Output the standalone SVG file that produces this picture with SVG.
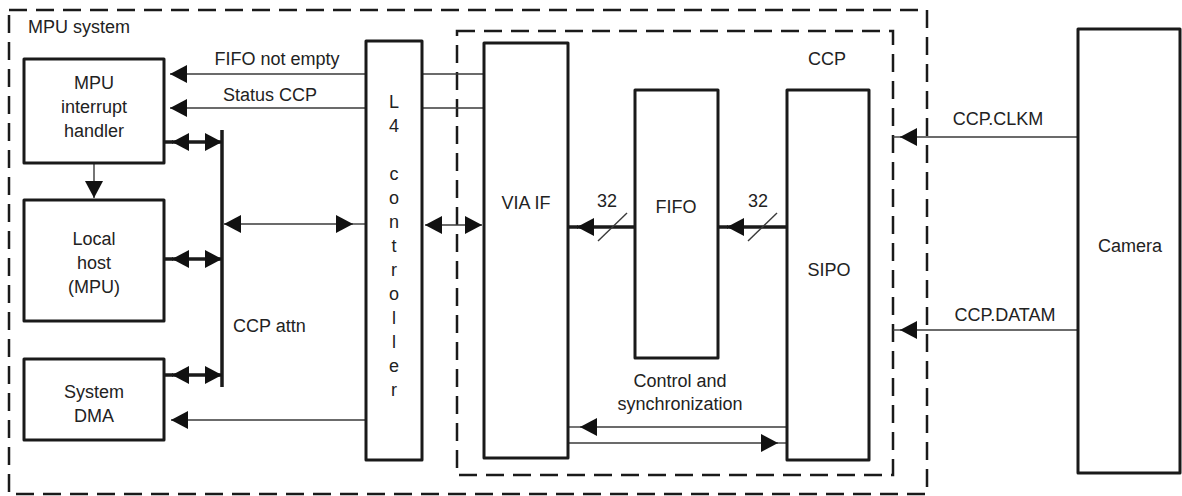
<svg xmlns="http://www.w3.org/2000/svg" width="1182" height="496" viewBox="0 0 1182 496">
<defs>
<style>
.box{fill:#fff;stroke:#1a1a1a;stroke-width:3;stroke-linejoin:round}
.dash{fill:none;stroke:#1a1a1a;stroke-width:2.5;stroke-dasharray:18 9}
.thin{fill:none;stroke:#3a3a3a;stroke-width:1.4}
.thick{fill:none;stroke:#1a1a1a;stroke-width:3.5}
.ah{marker-end:url(#arr)}
.ah2{marker-start:url(#arr);marker-end:url(#arr)}
text{font-family:"Liberation Sans",Arial,sans-serif;font-size:18px;fill:#222}
.c{text-anchor:middle}
</style>
<marker id="arr" viewBox="0 0 17 18" refX="17" refY="9" markerWidth="17" markerHeight="18" markerUnits="userSpaceOnUse" orient="auto-start-reverse">
<path d="M0,0 L17,9 L0,18 z" fill="#111"/>
</marker>
</defs>
<rect width="1182" height="496" fill="#fff"/>

<g id="mpu-system">
<rect class="dash" x="9" y="10" width="918" height="484"/>
<text x="28" y="33">MPU system</text>
</g>
<g id="ccp">
<rect class="dash" x="457" y="31" width="436" height="444"/>
<text class="c" x="827" y="65">CCP</text>
</g>

<g id="connectors">
<!-- FIFO not empty / Status CCP -->
<line class="thin ah" x1="366" y1="74" x2="170" y2="74"/>
<line class="thin" x1="422" y1="74" x2="484" y2="74"/>
<line class="thin ah" x1="366" y1="108" x2="170" y2="108"/>
<line class="thin" x1="422" y1="108" x2="484" y2="108"/>
<!-- DMA request -->
<line class="thin ah" x1="366" y1="420" x2="171" y2="420"/>
<!-- interrupt -> local host -->
<line class="thin ah" x1="94" y1="163" x2="94" y2="198"/>
<!-- CCP attn bus -->
<line class="thick" x1="222" y1="130" x2="222" y2="387"/>
<line class="thick ah2" x1="172" y1="142" x2="222" y2="142"/>
<line class="thick" x1="164" y1="142" x2="173" y2="142"/>
<line class="thick ah2" x1="172" y1="259" x2="222" y2="259"/>
<line class="thick" x1="164" y1="259" x2="173" y2="259"/>
<line class="thick ah2" x1="172" y1="375" x2="222" y2="375"/>
<line class="thick" x1="164" y1="375" x2="173" y2="375"/>
<!-- bus <-> L4 -->
<line class="thin ah2" x1="224" y1="224" x2="353" y2="224"/>
<line class="thin" x1="352" y1="224" x2="366" y2="224"/>
<!-- L4 <-> VIA IF -->
<line class="thin ah2" x1="425" y1="225" x2="482" y2="225"/>
<!-- 32-bit buses -->
<line class="thick ah" x1="635" y1="227" x2="577" y2="227"/>
<line class="thick" x1="568" y1="227" x2="578" y2="227"/>
<line class="thin" x1="598" y1="241" x2="627" y2="213"/>
<line class="thick ah" x1="787" y1="227" x2="727" y2="227"/>
<line class="thick" x1="718" y1="227" x2="728" y2="227"/>
<line class="thin" x1="748" y1="241" x2="777" y2="213"/>
<!-- Control and synchronization -->
<line class="thin ah" x1="787" y1="427" x2="580" y2="427"/>
<line class="thin" x1="568" y1="427" x2="581" y2="427"/>
<line class="thin ah" x1="568" y1="443" x2="778" y2="443"/>
<line class="thin" x1="777" y1="443" x2="787" y2="443"/>
<!-- Camera signals -->
<line class="thin ah" x1="1078" y1="137" x2="900" y2="137"/>
<line class="thin" x1="893" y1="137" x2="901" y2="137"/>
<line class="thin ah" x1="1078" y1="330" x2="900" y2="330"/>
<line class="thin" x1="893" y1="330" x2="901" y2="330"/>
<!-- labels -->
<text class="c" x="277" y="65">FIFO not empty</text>
<text class="c" x="270" y="101">Status CCP</text>
<text x="233" y="332">CCP attn</text>
<text class="c" x="607" y="207">32</text>
<text class="c" x="758" y="207">32</text>
<text class="c" x="680" y="387">Control and</text>
<text class="c" x="680" y="410">synchronization</text>
<text class="c" x="998" y="125">CCP.CLKM</text>
<text class="c" x="1005" y="321">CCP.DATAM</text>
</g>

<g id="mpu-interrupt-handler">
<rect class="box" x="24" y="59" width="140" height="104"/>
<text class="c" x="94" y="89">MPU</text>
<text class="c" x="94" y="113">interrupt</text>
<text class="c" x="94" y="137">handler</text>
</g>
<g id="local-host">
<rect class="box" x="24" y="200" width="140" height="121"/>
<text class="c" x="94" y="245">Local</text>
<text class="c" x="94" y="269">host</text>
<text class="c" x="94" y="293">(MPU)</text>
</g>
<g id="system-dma">
<rect class="box" x="24" y="359" width="140" height="81"/>
<text class="c" x="94" y="398">System</text>
<text class="c" x="94" y="422">DMA</text>
</g>
<g id="l4-controller">
<rect class="box" x="366" y="41" width="56" height="419"/>
<text class="c" x="394" y="108">L</text>
<text class="c" x="394" y="132">4</text>
<text class="c" x="394" y="180">c</text>
<text class="c" x="394" y="204">o</text>
<text class="c" x="394" y="228">n</text>
<text class="c" x="394" y="252">t</text>
<text class="c" x="394" y="276">r</text>
<text class="c" x="394" y="300">o</text>
<text class="c" x="394" y="324">l</text>
<text class="c" x="394" y="348">l</text>
<text class="c" x="394" y="372">e</text>
<text class="c" x="394" y="396">r</text>
</g>
<g id="via-if">
<rect class="box" x="484" y="43" width="84" height="415"/>
<text class="c" x="526" y="209">VIA IF</text>
</g>
<g id="fifo">
<rect class="box" x="635" y="90" width="83" height="268"/>
<text class="c" x="676" y="213">FIFO</text>
</g>
<g id="sipo">
<rect class="box" x="787" y="90" width="82" height="370"/>
<text class="c" x="829" y="276">SIPO</text>
</g>
<g id="camera">
<rect class="box" x="1078" y="29" width="102" height="444"/>
<text class="c" x="1130" y="252">Camera</text>
</g>
</svg>
